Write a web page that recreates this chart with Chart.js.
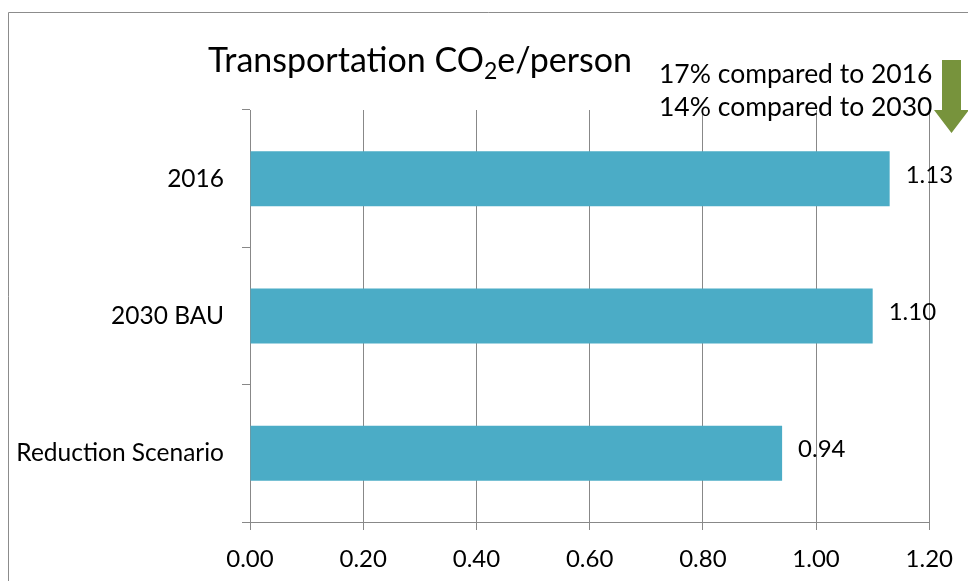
<!DOCTYPE html>
<html>
<head>
<meta charset="utf-8">
<script src="https://cdn.jsdelivr.net/npm/chart.js@4/dist/chart.umd.min.js"></script>
<style>
  html, body { margin: 0; padding: 0; background: #fff; }
  #wrap { width: 968px; height: 581px; position: relative; }
</style>
</head>
<body>
<div id="wrap"><canvas id="c" width="968" height="581"></canvas></div>
<script>
// Per-person transportation emissions by scenario
const categories = ['2016', '2030 BAU', 'Reduction Scenario'];
const co2ePerPerson = [1.13, 1.10, 0.94];
const xTicks = [0, 0.2, 0.4, 0.6, 0.8, 1.0, 1.2];
const titleParts = ['Transportation CO', '2', 'e/person'];
const noteLines = ['17% compared to 2016', '14% compared to 2030'];

const FONT = 'Lato, "Open Sans", sans-serif';
const GRID = '#888888';
const BAR = '#4BACC6';
const ARROW = '#77933C';

// Frame, title with subscript, reduction note with arrow, and value labels
const decorations = {
  id: 'decorations',
  beforeDraw(chart) {
    const ctx = chart.ctx;
    ctx.save();
    ctx.strokeStyle = '#8c8c8c';
    ctx.lineWidth = 1;
    ctx.beginPath();
    ctx.moveTo(8.5, 581);
    ctx.lineTo(8.5, 12.5);
    ctx.lineTo(968, 12.5);
    ctx.stroke();
    ctx.restore();
  },
  afterDraw(chart) {
    const ctx = chart.ctx;
    ctx.save();
    ctx.fillStyle = '#000';
    ctx.textBaseline = 'alphabetic';
    ctx.textAlign = 'left';

    // title
    let x = 208;
    const base = 72;
    ctx.font = '34px ' + FONT;
    ctx.fillText(titleParts[0], x, base);
    x += ctx.measureText(titleParts[0]).width;
    ctx.font = '23px ' + FONT;
    ctx.fillText(titleParts[1], x, base + 7);
    x += ctx.measureText(titleParts[1]).width;
    ctx.font = '34px ' + FONT;
    ctx.fillText(titleParts[2], x, base);

    // note
    ctx.font = '26.5px ' + FONT;
    ctx.fillText(noteLines[0], 659, 83);
    ctx.fillText(noteLines[1], 659, 116);

    // down arrow
    ctx.fillStyle = ARROW;
    ctx.beginPath();
    ctx.moveTo(942, 60);
    ctx.lineTo(961, 60);
    ctx.lineTo(961, 110);
    ctx.lineTo(969, 110);
    ctx.lineTo(951.5, 133);
    ctx.lineTo(934, 110);
    ctx.lineTo(942, 110);
    ctx.closePath();
    ctx.fill();

    // value labels
    ctx.fillStyle = '#000';
    ctx.font = '24px ' + FONT;
    const meta = chart.getDatasetMeta(0);
    meta.data.forEach((bar, i) => {
      ctx.fillText(co2ePerPerson[i].toFixed(2), bar.x + 16, bar.y + 4);
    });
    ctx.restore();
  }
};

new Chart(document.getElementById('c'), {
  type: 'bar',
  data: {
    labels: categories,
    datasets: [{
      data: co2ePerPerson,
      backgroundColor: BAR,
      borderWidth: 0,
      barPercentage: 0.4,
      categoryPercentage: 1.0
    }]
  },
  options: {
    indexAxis: 'y',
    responsive: false,
    animation: false,
    devicePixelRatio: 1,
    layout: { padding: { top: 110, right: 38, left: 0, bottom: 0 } },
    plugins: { legend: { display: false }, tooltip: { enabled: false }, title: { display: false } },
    scales: {
      x: {
        min: 0,
        max: 1.2,
        afterBuildTicks(scale) { scale.ticks = xTicks.map(v => ({ value: v })); },
        afterFit(scale) { scale.height = 59; },
        ticks: {
          callback: v => Number(v).toFixed(2),
          color: '#000',
          font: { family: FONT, size: 24 },
          padding: 15,
          maxRotation: 0
        },
        grid: { color: GRID, lineWidth: 1, tickLength: 8, drawOnChartArea: true },
        border: { display: true, color: GRID, width: 1 }
      },
      y: {
        afterFit(scale) { scale.width = 250; },
        ticks: {
          color: '#000',
          font: { family: FONT, size: 24.5 },
          padding: 18
        },
        grid: { offset: true, drawOnChartArea: false, color: GRID, lineWidth: 1, tickLength: 8 },
        border: { display: true, color: GRID, width: 1 }
      }
    }
  },
  plugins: [decorations]
});
</script>
</body>
</html>
